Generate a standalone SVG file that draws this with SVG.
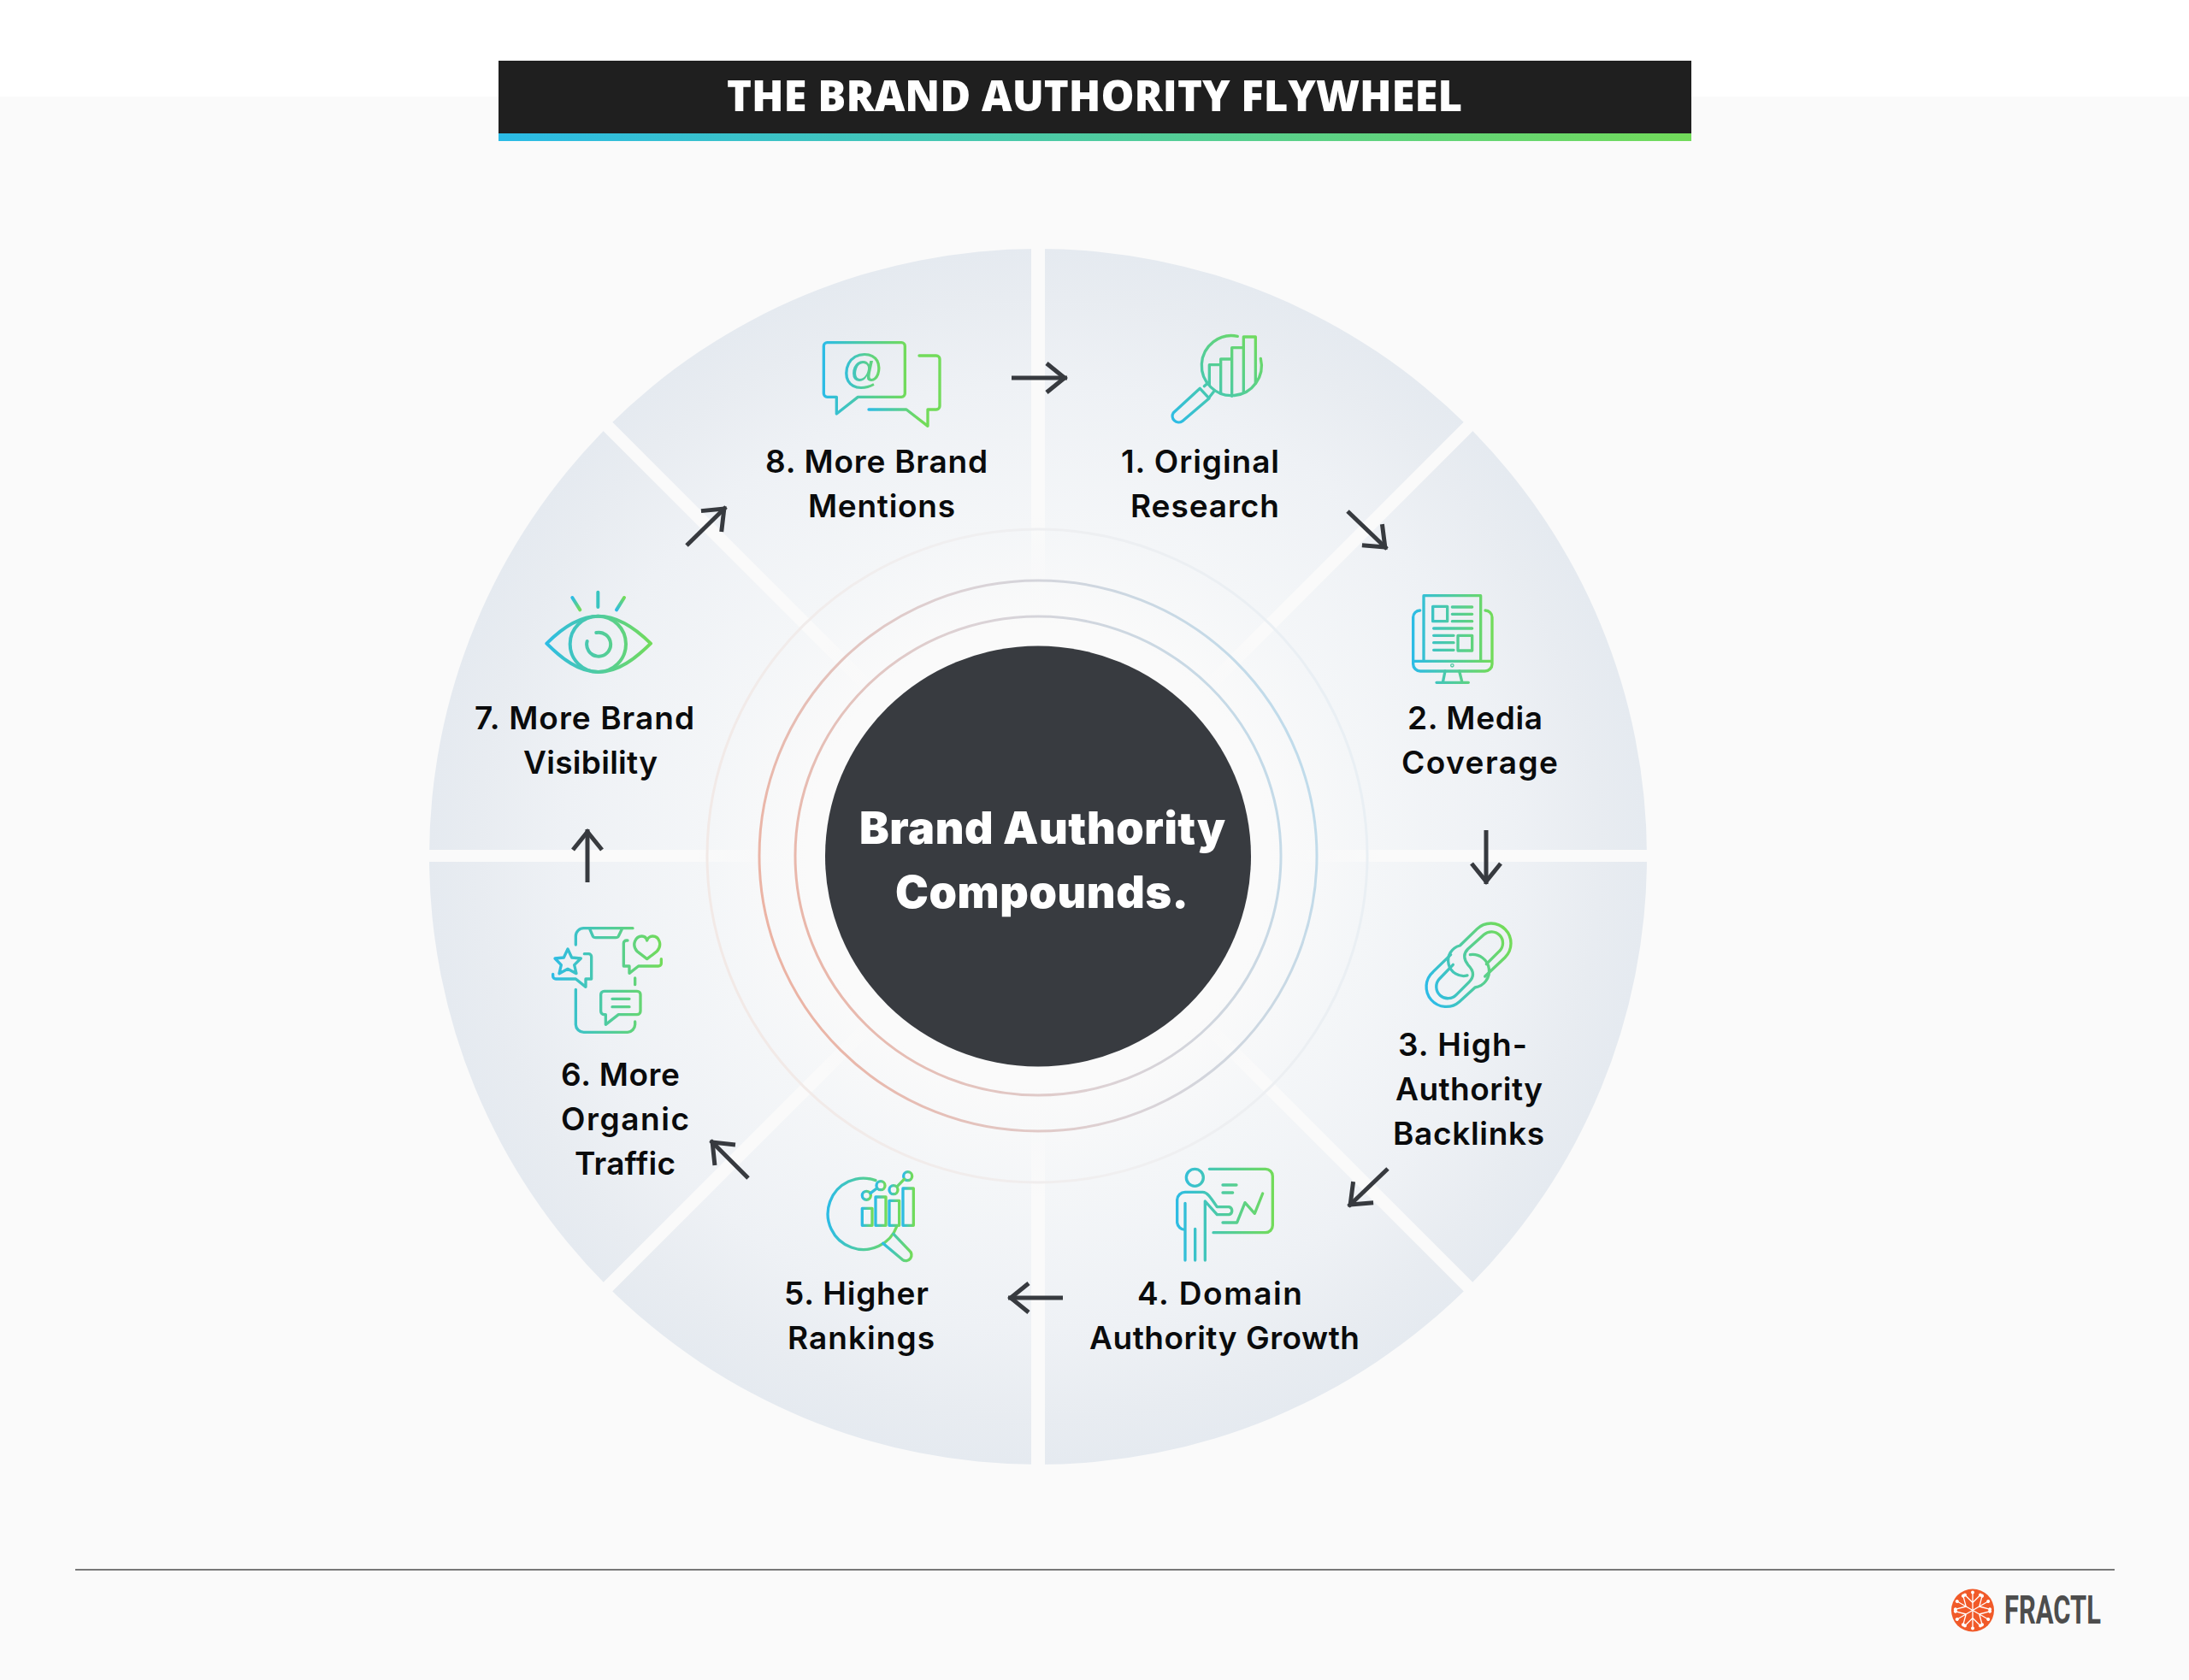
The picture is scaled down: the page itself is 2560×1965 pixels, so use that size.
<svg xmlns="http://www.w3.org/2000/svg" width="2560" height="1965" viewBox="0 0 2560 1965">
<style>
.lb{font-family:"Inter","Liberation Sans",sans-serif;font-weight:600;font-size:37px;fill:#0a0b0c}
.ct{font-family:"Inter","Liberation Sans",sans-serif;font-weight:900;font-size:52px;fill:#fff}
.ic{fill:none;stroke-width:10;stroke-linecap:round;stroke-linejoin:round}
.ar{stroke:#373a3f;stroke-width:5;fill:none;marker-end:url(#ah)}
.ob{stroke:url(#gO)}
.sf{stroke:#fff;stroke-width:1.3;fill:none}
</style>
<defs>
<linearGradient id="gO" x1="0" y1="0" x2="1" y2="0"><stop offset="0" stop-color="#2dbce5"/><stop offset="1" stop-color="#72db5a"/></linearGradient>
<linearGradient id="g8" href="#gO" gradientUnits="userSpaceOnUse" x1="130" y1="0" x2="420" y2="0"/>
<linearGradient id="g8b" href="#gO" gradientUnits="userSpaceOnUse" x1="288" y1="0" x2="470" y2="0"/>
<linearGradient id="g1" href="#gO" gradientUnits="userSpaceOnUse" x1="100" y1="370" x2="400" y2="70"/>
<linearGradient id="g2" href="#gO" gradientUnits="userSpaceOnUse" x1="68" y1="0" x2="345" y2="0"/>
<linearGradient id="g3" href="#gO" gradientUnits="userSpaceOnUse" x1="55" y1="260" x2="350" y2="160"/>
<linearGradient id="g4" href="#gO" gradientUnits="userSpaceOnUse" x1="45" y1="0" x2="385" y2="0"/>
<linearGradient id="g6" href="#gO" gradientUnits="userSpaceOnUse" x1="50" y1="0" x2="430" y2="0"/>
<linearGradient id="g7" href="#gO" gradientUnits="userSpaceOnUse" x1="55" y1="0" x2="425" y2="0"/>
<linearGradient id="g7a" gradientUnits="userSpaceOnUse" x1="148" y1="57" x2="175" y2="100"><stop offset="0" stop-color="#2dbce5"/><stop offset="1" stop-color="#72db5a"/></linearGradient>
<linearGradient id="g7b" gradientUnits="userSpaceOnUse" x1="238" y1="38" x2="238" y2="90"><stop offset="0" stop-color="#38c4c0"/><stop offset="1" stop-color="#38c4c0"/></linearGradient>
<linearGradient id="g7c" gradientUnits="userSpaceOnUse" x1="303" y1="100" x2="330" y2="57"><stop offset="0" stop-color="#2dbce5"/><stop offset="1" stop-color="#72db5a"/></linearGradient>
<linearGradient id="bar" x1="0" y1="0" x2="1" y2="0"><stop offset="0" stop-color="#2bbbe6"/><stop offset="1" stop-color="#72db5a"/></linearGradient>
<linearGradient id="rg" gradientUnits="userSpaceOnUse" x1="888" y1="1100" x2="1540" y2="900"><stop offset="0" stop-color="#ecb2a2"/><stop offset=".5" stop-color="#dcd2d5"/><stop offset="1" stop-color="#bfdcec"/></linearGradient>
<linearGradient id="rf" gradientUnits="userSpaceOnUse" x1="827" y1="1100" x2="1600" y2="900"><stop offset="0" stop-color="#f2e9e6"/><stop offset=".5" stop-color="#f0eff0"/><stop offset="1" stop-color="#e9eff4"/></linearGradient>
<radialGradient id="disk" gradientUnits="userSpaceOnUse" cx="1214" cy="1002" r="712"><stop offset="0" stop-color="#fafafa"/><stop offset=".38" stop-color="#fafafa"/><stop offset=".54" stop-color="#f4f6f8"/><stop offset=".78" stop-color="#eef1f5"/><stop offset=".92" stop-color="#e8ecf1"/><stop offset="1" stop-color="#e5eaf0"/></radialGradient>
<radialGradient id="gapD" gradientUnits="userSpaceOnUse" cx="1214" cy="1002" r="712"><stop offset=".33" stop-color="#fafafa" stop-opacity="0"/><stop offset=".5" stop-color="#fafafa"/><stop offset="1" stop-color="#fafafa"/></radialGradient>
<radialGradient id="gapV" gradientUnits="userSpaceOnUse" cx="1214" cy="1002" r="712"><stop offset=".42" stop-color="#fafafa" stop-opacity=".15"/><stop offset=".56" stop-color="#fafafa"/><stop offset="1" stop-color="#fafafa"/></radialGradient>
<marker id="ah" markerUnits="userSpaceOnUse" viewBox="-26 -22 32 44" refX="3" refY="0" markerWidth="32" markerHeight="44" orient="auto"><path d="M-21-17L0 0L-21 17" fill="none" stroke="#373a3f" stroke-width="5"/></marker>
<g id="br" class="sf"><path d="M0 0V-20M0-9L-8-17M0-9L8-17"/><circle cx="0" cy="-21" r="2" fill="#fff" stroke="none"/><circle cx="-9" cy="-18" r="2" fill="#fff" stroke="none"/><circle cx="9" cy="-18" r="2" fill="#fff" stroke="none"/></g>
</defs>

<rect width="2560" height="1965" fill="#fff"/>
<rect y="113" width="2560" height="1852" fill="#fafafa"/>

<g id="title">
<rect x="583" y="71" width="1395" height="85" fill="#1f1f1f"/>
<rect x="583" y="156" width="1395" height="9" fill="url(#bar)"/>
<text x="850" y="130" textLength="860" lengthAdjust="spacingAndGlyphs" style="font-family:'Open Sans','Liberation Sans',sans-serif;font-weight:800;font-size:50px;fill:#fff">THE BRAND AUTHORITY FLYWHEEL</text>
</g>

<g id="wheel">
<ellipse cx="1214" cy="1002" rx="712" ry="711" fill="url(#disk)"/>
<path d="M1214 291V1713" stroke="url(#gapV)" stroke-width="16" fill="none"/>
<path d="M502 1001H1926" stroke="url(#gapV)" stroke-width="14" fill="none"/>
<path d="M710 498L1718 1506M1718 498L710 1506" stroke="url(#gapD)" stroke-width="15" fill="none"/>
<ellipse cx="1213" cy="1001" rx="386" ry="382" fill="none" stroke="url(#rf)" stroke-width="3"/>
<ellipse cx="1214" cy="1001" rx="326" ry="322" fill="none" stroke="url(#rg)" stroke-width="3"/>
<ellipse cx="1214" cy="1001" rx="284" ry="280" fill="none" stroke="url(#rg)" stroke-width="3"/>
</g>

<g id="center">
<ellipse cx="1214" cy="1001.5" rx="249" ry="246" fill="#383b40"/>
<text class="ct" x="1005" y="987" textLength="428">Brand Authority</text>
<text class="ct" x="1047" y="1062" textLength="343">Compounds.</text>
</g>

<g id="connectors">
<line class="ar" x1="1183" y1="442" x2="1248" y2="442"/>
<line class="ar" x1="1576" y1="598" x2="1622" y2="642"/>
<line class="ar" x1="1738" y1="971" x2="1738" y2="1034"/>
<line class="ar" x1="1623" y1="1367" x2="1577" y2="1411"/>
<line class="ar" x1="1243" y1="1518" x2="1179" y2="1518"/>
<line class="ar" x1="875" y1="1378" x2="831" y2="1334"/>
<line class="ar" x1="687" y1="1032" x2="687" y2="970"/>
<line class="ar" x1="803" y1="638" x2="849" y2="593"/>
</g>

<g id="node-1">
<g class="ic" stroke="url(#g1)" transform="translate(1340 370) scale(.3333)">
<path d="M322 70A105 105 0 1 0 403 148"/>
<path d="M223 240V170H263V270M263 170V150H302V280M302 150V110H343V268M343 110V72H385V235"/>
<path d="M190 253L222 288L128 368A22 22 0 0 1 97 338Z"/>
<path d="M205 245L222 230M222 285L238 265"/>
</g>
<text class="lb" x="1311" y="553" textLength="185">1. Original</text>
<text class="lb" x="1322" y="605" textLength="174">Research</text>
</g>

<g id="node-2">
<g class="ic" stroke="url(#g2)" transform="translate(1630 680) scale(.3333)">
<path d="M105 280V50H305V280"/>
<path d="M92 102A24 24 0 0 0 68 126V290A25 25 0 0 0 93 315H320A25 25 0 0 0 345 290V126A24 24 0 0 0 321 102M68 280H345"/>
<circle cx="205" cy="295" r="2"/>
<path d="M180 315L172 355M230 315L240 355M150 355H262"/>
<path d="M137 88H188V140H137ZM205 90H275M205 115H275M205 140H275M140 165H275M140 190H210M140 215H210M140 241H210M225 190H275V243H225Z"/>
</g>
<text class="lb" x="1646" y="853" textLength="158">2. Media</text>
<text class="lb" x="1639" y="905" textLength="183">Coverage</text>
</g>

<g id="node-3">
<g class="ic" stroke="url(#g3)" transform="translate(1650 1060) scale(.3333)">
<path d="M198 243A48 48 0 0 1 172 138L232 80A62 62 0 0 1 330 180L260 246"/>
<path d="M265 203L310 158A34 34 0 0 0 256 100L200 150C185 165 185 185 200 205C225 230 220 250 205 265L160 310A36 36 0 0 1 100 255L148 205"/>
<path d="M140 170L78 230A62 62 0 0 0 170 335L225 285A50 50 0 0 0 208 170"/>
</g>
<text class="lb" x="1635" y="1235" textLength="151">3. High-</text>
<text class="lb" x="1632" y="1287" textLength="172">Authority</text>
<text class="lb" x="1629" y="1339" textLength="177">Backlinks</text>
</g>

<g id="node-4">
<g class="ic" stroke="url(#g4)" transform="translate(1360 1350) scale(.3333)">
<circle cx="112" cy="82" r="30"/>
<path d="M163 52H360A25 25 0 0 1 385 77V250A25 25 0 0 1 360 275H177"/>
<path d="M78 265A28 28 0 0 1 50 240V160A28 28 0 0 1 78 133H140C155 133 165 148 190 185H232A14 14 0 0 1 232 212H190L148 165V372M78 172V372M113 262V372"/>
<path d="M210 108H258M210 135H245M210 240H260L288 170L322 208L350 138"/>
</g>
<text class="lb" x="1330" y="1526" textLength="193">4. Domain</text>
<text class="lb" x="1274" y="1578" textLength="316">Authority Growth</text>
</g>

<g id="node-5">
<g class="ic" transform="translate(950 1360) scale(.3333)">
<path class="ob" d="M222 62A125 125 0 1 0 297 222"/>
<path class="ob" d="M285 250L340 308A16 16 0 0 1 316 340L248 283"/>
<rect class="ob" x="175" y="160" width="35" height="60"/>
<rect class="ob" x="222" y="120" width="36" height="100"/>
<rect class="ob" x="270" y="133" width="35" height="87"/>
<rect class="ob" x="318" y="90" width="37" height="130"/>
<circle class="ob" cx="190" cy="115" r="15"/>
<circle class="ob" cx="240" cy="80" r="15"/>
<circle class="ob" cx="285" cy="95" r="15"/>
<circle class="ob" cx="335" cy="47" r="15"/>
<path class="ob" d="M204 107L226 90M298 83L322 58"/>
</g>
<text class="lb" x="917" y="1526" textLength="169">5. Higher</text>
<text class="lb" x="921" y="1578" textLength="172">Rankings</text>
</g>

<g id="node-6">
<g class="ic" stroke="url(#g6)" transform="translate(630 1070) scale(.3333)">
<path d="M130 105V75A28 28 0 0 1 158 47H330M178 47L190 75Q192 80 200 80H270Q278 80 280 75L292 50"/>
<path d="M130 262V385A28 28 0 0 0 158 412H312A28 28 0 0 0 338 385V375M338 222V245"/>
<path d="M102 120L116 150L148 153L125 176L132 206L102 190L72 206L79 176L57 153L88 150Z"/>
<path d="M160 137H175A10 10 0 0 1 185 147V225H165V253L130 225H60A10 10 0 0 1 50 215V208"/>
<path d="M312 90H308A10 10 0 0 0 298 100V180H318V205L350 180H420A10 10 0 0 0 430 170V155"/>
<path d="M380 155L345 128C325 105 340 75 362 75C372 75 378 82 380 90C382 82 390 75 400 75C422 75 435 105 415 128Z"/>
<path d="M235 350H230A12 12 0 0 1 218 338V280A12 12 0 0 1 230 268H345A12 12 0 0 1 357 280V338A12 12 0 0 1 345 350H280L235 385ZM258 295H318M258 323H318"/>
</g>
<text class="lb" x="656" y="1270" textLength="139">6. More</text>
<text class="lb" x="656" y="1322" textLength="150">Organic</text>
<text class="lb" x="672" y="1374" textLength="118">Traffic</text>
</g>

<g id="node-7">
<g class="ic" stroke="url(#g7)" style="stroke-width:12" transform="translate(620 680) scale(.3333)">
<path d="M58 218C110 165 170 122 240 122C310 122 370 165 423 218C370 270 310 318 240 318C170 318 110 270 58 218Z"/>
<circle cx="238" cy="220" r="98"/>
<path d="M200 210A42 42 0 1 0 232 180"/>
<path stroke="url(#g7a)" d="M148 57L175 100"/>
<path stroke="url(#g7b)" d="M238 38V90"/>
<path stroke="url(#g7c)" d="M303 100L330 57"/>
</g>
<text class="lb" x="555" y="853" textLength="257">7. More Brand</text>
<text class="lb" x="612" y="905" textLength="157">Visibility</text>
</g>

<g id="node-8">
<g class="ic" transform="translate(920 360) scale(.3333)">
<path stroke="url(#g8)" d="M175 313H142A12 12 0 0 1 130 301V134A12 12 0 0 1 142 122H403A12 12 0 0 1 415 134V301A12 12 0 0 1 403 313H250L175 372Z"/>
<text x="265" y="263" text-anchor="middle" style="font-family:'Liberation Sans',sans-serif;font-style:italic;font-size:146px;fill:url(#gO);stroke:none">@</text>
<path stroke="url(#g8b)" d="M465 168H525A12 12 0 0 1 537 180V345A12 12 0 0 1 525 357H495V415L420 357H288"/>
</g>
<text class="lb" x="895" y="553" textLength="260">8. More Brand</text>
<text class="lb" x="945" y="605" textLength="172">Mentions</text>
</g>

<line id="rule" x1="88" y1="1836" x2="2473" y2="1836" stroke="#4d4d4d" stroke-width="1.6"/>

<g id="logo">
<circle cx="2307" cy="1883.5" r="25" fill="#f15a29"/>
<g transform="translate(2307 1883.5)">
<use href="#br"/><use href="#br" transform="rotate(60)"/><use href="#br" transform="rotate(120)"/><use href="#br" transform="rotate(180)"/><use href="#br" transform="rotate(240)"/><use href="#br" transform="rotate(300)"/>
</g>
<text x="2344" y="1899" textLength="113" lengthAdjust="spacingAndGlyphs" style="font-family:'Roboto','Liberation Sans',sans-serif;font-weight:700;font-size:46px;fill:#4d4d4d">FRACTL</text>
</g>
</svg>
